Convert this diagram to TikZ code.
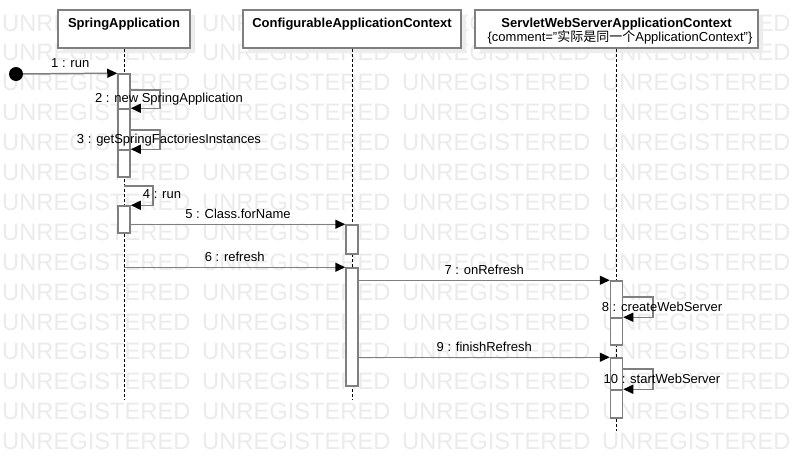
\documentclass[tikz,border=0pt]{standalone}
\usepackage{fontspec}
\setmainfont{Liberation Sans}
\newfontfamily\cjk{Noto Sans CJK SC}
\usetikzlibrary{arrows.meta}
\definecolor{umlgray}{HTML}{7F7F7F}
\tikzset{
  head/.style={draw=umlgray, line width=1.5pt, fill=white, inner sep=0pt},
  bar/.style={draw=umlgray, line width=1.5pt, fill=white, inner sep=0pt, minimum width=12pt},
  msg/.style={draw=umlgray, line width=1.5pt, -{Triangle[length=10pt,width=9pt,color=black]}},
  life/.style={dash pattern=on 3pt off 2pt, line width=0.8pt},
  lbl/.style={anchor=base, inner sep=0pt, font=\fontsize{13}{15}\selectfont},
  ttl/.style={lbl, font=\fontsize{13}{15}\selectfont\bfseries},
  wm/.style={anchor=base west, inner sep=0pt, text=black!8, font=\fontsize{23.7}{26}\selectfont}
}
\begin{document}
\begin{tikzpicture}[x=1pt, y=-1pt]
  \useasboundingbox[fill=white] (0,0) rectangle (798,472);
  \foreach \r in {0,...,14}
    \foreach \c in {0,...,3}
      \node[wm] (wm-\r-\c) at (2+200*\c, 31+29.9*\r) {UNREGISTERED};
  % lifeline heads
  \fill[black!7] (63,15) rectangle (195,53) (248,15) rectangle (466,53) (480,15) rectangle (763,53);
  \node[head, minimum width=132pt, minimum height=38pt] (sa) at (124,29) {};
  \node[head, minimum width=218pt, minimum height=38pt] (cac) at (352,29) {};
  \node[head, minimum width=283pt, minimum height=38pt] (sw) at (616.5,29) {};
  \node[ttl] (saT) at (124,27) {SpringApplication};
  \node[ttl] (cacT) at (352,27) {ConfigurableApplicationContext};
  \node[ttl] (swT) at (616.5,27) {ServletWebServerApplicationContext};
  \node[lbl] (swC) at (620,41) {\{comment="{\cjk 实际是同一个}ApplicationContext"\}};
  \coordinate (saE) at (124,399);
  \coordinate (cacE) at (352,399);
  \coordinate (swE) at (616.5,431);
  \draw[life] (sa.south) -- (saE) (cac.south) -- (cacE) (sw.south) -- (swE);
  % activations
  \foreach \n/\x/\t/\b in {a1/124/74/177, a2/124/109/177, a3/124/150/177, a4/124/206/233,
      c1/352/225/254, c2/352/268/386, w1/616.5/281/345, w2/616.5/318/345,
      w3/616.5/358/418, w4/616.5/390/418}
    \node[bar, minimum height=\b-\t] (\n) at (\x,{(\t+\b)/2}) {};
  \node[circle, fill=black, inner sep=0pt, minimum size=14pt] (init) at (16,74) {};
  % messages
  \draw[msg] (init) -- node[lbl, yshift=6pt] (m1) {1 : run} (a1.north west);
  \draw[msg] (a1.east |- 0,90) -- (160,90) |- (a2.north east);
  \node[lbl] (m2) at (169,102) {2 : new SpringApplication};
  \draw[msg] (a2.east |- 0,130) -- (160,130) |- (a3.north east);
  \node[lbl] (m3) at (169,143) {3 : getSpringFactoriesInstances};
  \draw[msg] (sa |- 0,186) -- (153,186) |- (a4.north east);
  \node[lbl] (m4) at (162,198) {4 : run};
  \draw[msg] (a4.east |- c1.north) -- node[lbl, yshift=6pt] (m5) {5 : Class.forName} (c1.north west);
  \draw[msg] (sa |- c2.north) -- node[lbl, yshift=6pt] (m6) {6 : refresh} (c2.north west);
  \draw[msg] (c2.east |- w1.north) -- node[lbl, yshift=6pt] (m7) {7 : onRefresh} (w1.north west);
  \draw[msg] (w1.east |- 0,297) -- (653,297) |- (w2.north east);
  \node[lbl] (m8) at (662,311) {8 : createWebServer};
  \draw[msg] (c2.east |- w3.north) -- node[lbl, yshift=6pt] (m9) {9 : finishRefresh} (w3.north west);
  \draw[msg] (w3.east |- 0,369) -- (653,369) |- (w4.north east);
  \node[lbl] (m10) at (662,383) {10 : startWebServer};
\end{tikzpicture}
\end{document}
